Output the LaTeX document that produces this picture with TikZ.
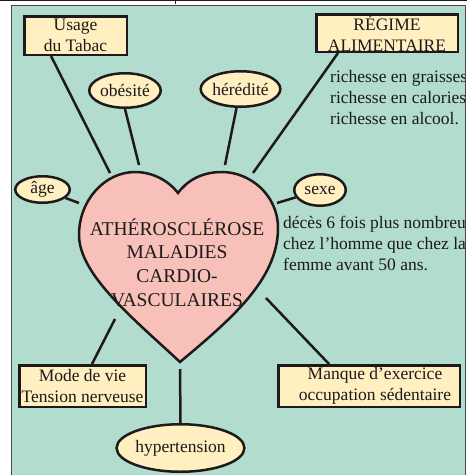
\documentclass[tikz,border=0pt]{standalone}
\usepackage{fontspec}
\setmainfont{Liberation Serif}
\usetikzlibrary{shapes.geometric}
\definecolor{panel}{HTML}{B1DCCE}
\definecolor{cream}{HTML}{FFEFC1}
\definecolor{heartpink}{HTML}{F7C0B9}
\definecolor{ink}{HTML}{1E1A1B}
\newcommand\bodyf{\fontsize{17.5}{21}\selectfont}
\newcommand\heartf{\fontsize{19.5}{23.7}\selectfont}
\begin{document}
\begin{tikzpicture}[x=1pt,y=-1pt,
  boxnode/.style={rectangle, draw=ink, line width=2.5pt, fill=cream, inner sep=0pt, align=center, font=\bodyf, text=ink},
  oval/.style={ellipse, draw=ink, line width=2.5pt, fill=cream, inner sep=0pt, font=\bodyf, text=ink},
  link/.style={draw=ink, line width=2.5pt},
  note/.style={inner sep=0pt, align=left, font=\bodyf, text=ink, anchor=west}]
\useasboundingbox (0,0) rectangle (467,475);
% top rule
\draw[ink, line width=1.2pt] (0,0.6) -- (467,0.6);
\draw[ink, line width=1pt] (175,0) -- (175,3.5);
% panel
\fill[panel] (11,5) rectangle (465,480);
\draw[ink!80, line width=0.9pt] (11,480) -- (11,5) -- (465,5) -- (465,480);
% heart
\draw[ink, line width=2.5pt, fill=heartpink]
  (178,193) .. controls (168,180) and (152,172) .. (135,172)
  .. controls (105,172) and (79,200) .. (79,235)
  .. controls (79,275) and (135,320) .. (180,362)
  .. controls (230,320) and (278,280) .. (278,228)
  .. controls (278,195) and (250,172) .. (222,172)
  .. controls (200,172) and (186,182) .. (178,193) -- cycle;
\node[inner sep=0pt, align=center, font=\heartf, text=ink] (heart) at (177,262.5)
  {ATHÉROSCLÉROSE\\MALADIES\\CARDIO-\\VASCULAIRES};
% side notes (clipped by the panel, as in the original)
\begin{scope}
  \clip (11,5) rectangle (464.5,480);
  \node[note] (regimenote) at (330,98) {richesse en graisses\\richesse en calories\\richesse en alcool.};
  \node[note] (sexenote) at (283,243) {décès 6 fois plus nombreux\\chez l’homme que chez la\\femme avant 50 ans.};
\end{scope}
% nodes
\node[boxnode, minimum width=102.5pt, minimum height=38.5pt] (usage) at (75.5,35.5) {Usage\\du Tabac};
\node[boxnode, minimum width=141.5pt, minimum height=37.5pt] (regime) at (387,33) {RÉGIME\\ALIMENTAIRE};
\node[boxnode, minimum width=126.5pt, minimum height=41.5pt] (mode) at (82.5,386) {Mode de vie\\Tension nerveuse};
\node[boxnode, minimum width=181.5pt, minimum height=41.5pt] (manque) at (369,386) {\hspace*{12pt}Manque d’exercice\\\hspace*{12pt}occupation sédentaire};
\node[oval, minimum width=71.5pt, minimum height=34.5pt] (obes) at (125,90.5) {obésité};
\node[oval, minimum width=72.5pt, minimum height=35.5pt] (hered) at (240.5,89) {hérédité};
\node[oval, minimum width=54.5pt, minimum height=26.5pt] (age) at (42.5,189.5) {âge};
\node[oval, minimum width=51.5pt, minimum height=31.5pt] (sexe) at (320,190) {sexe};
\node[oval, minimum width=101.5pt, minimum height=47.5pt] (hyper) at (180.5,448) {hypertension};
% heart-side ends of connectors
\coordinate (hUsage) at (110,173);
\coordinate (hObes) at (139,165);
\coordinate (hHered) at (225,165);
\coordinate (hRegime) at (253,173);
\coordinate (hAge) at (79,203);
\coordinate (hSexe) at (277,203);
\coordinate (hMode) at (115,319);
\coordinate (hHyper) at (180,369);
\coordinate (hManque) at (266,298);
% connectors
\draw[link] ([xshift=-24.5pt]usage.south) -- (hUsage);
\draw[link] (obes.south) -- (hObes);
\draw[link] ([xshift=-4pt]hered.south) -- (hHered);
\draw[link] ([xshift=-49pt]regime.south) -- (hRegime);
\draw[link] (age) -- (hAge);
\draw[link] (sexe) -- (hSexe);
\draw[link] ([xshift=9.5pt]mode.north) -- (hMode);
\draw[link] (hyper.north) -- (hHyper);
\draw[link] ([xshift=-40pt]manque.north) -- (hManque);
\end{tikzpicture}
\end{document}
